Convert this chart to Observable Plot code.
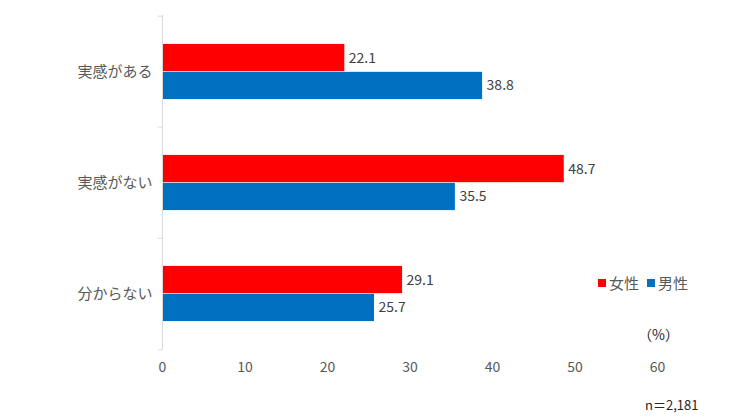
<!DOCTYPE html>
<html><head><meta charset="utf-8">
<script src="https://cdn.jsdelivr.net/npm/d3@7"></script>
<script src="https://cdn.jsdelivr.net/npm/@observablehq/plot@0.6"></script>
<style>
html,body{margin:0;padding:0;background:#fff;}
#wrap{position:relative;width:740px;height:417px;font-family:"Noto Sans CJK JP","Noto Sans",sans-serif;}
.leg{position:absolute;left:598px;top:272px;font-size:15px;color:#595959;display:flex;align-items:center;white-space:nowrap;}
.sw{display:inline-block;width:8px;height:8px;margin-right:3px;}
.pct{position:absolute;left:638px;top:324px;font-size:14px;color:#262626;}
.n{position:absolute;left:645px;top:395px;font-size:13px;color:#262626;}
</style></head>
<body><div id="wrap"></div>
<script>
const categories = ["実感がある", "実感がない", "分からない"];
const female = [22.1, 48.7, 29.1];
const male = [38.8, 35.5, 25.7];
const seriesNames = ["女性", "男性"];
const seriesColors = ["#ff0000", "#0070c0"];
const xTicks = [0, 10, 20, 30, 40, 50, 60];

const fData = categories.map((c, i) => ({cat: c, v: female[i]}));
const mData = categories.map((c, i) => ({cat: c, v: male[i]}));

const H = 417, mt = 15, mb = 67;
const band = (H - mt - mb) / categories.length;

const chart = Plot.plot({
  width: 740, height: H,
  marginLeft: 162, marginRight: 83, marginTop: mt, marginBottom: mb,
  style: {fontFamily: '"Noto Sans CJK JP","Noto Sans",sans-serif', background: "#fff"},
  x: {domain: [0, 60], ticks: xTicks},
  y: {domain: categories, padding: 0},
  marks: [
    Plot.barX(fData, {x: "v", y: "cat", fill: seriesColors[0], insetTop: band*0.25, insetBottom: band*0.5}),
    Plot.barX(mData, {x: "v", y: "cat", fill: seriesColors[1], insetTop: band*0.5, insetBottom: band*0.25}),
    Plot.text(fData, {x: "v", y: "cat", text: d => d.v.toFixed(1), dx: 4, dy: -band*0.125, textAnchor: "start", fontSize: 14, fill: "#404040"}),
    Plot.text(mData, {x: "v", y: "cat", text: d => d.v.toFixed(1), dx: 4, dy: band*0.125, textAnchor: "start", fontSize: 14, fill: "#404040"}),
    Plot.ruleX([0], {stroke: "#d9d9d9"}),
    Plot.ruleY(categories, {y: d => d, dy: -band/2, x1: -0.5, x2: 0, stroke: "#d9d9d9"}),
    Plot.ruleY([categories[categories.length-1]], {y: d => d, dy: band/2, x1: -0.5, x2: 0, stroke: "#d9d9d9"}),
    Plot.axisX({ticks: xTicks, tickSize: 0, tickPadding: 12, fontSize: 14, color: "#595959", label: null}),
    Plot.axisY({tickSize: 0, tickPadding: 10, fontSize: 15, color: "#595959", label: null})
  ]
});

const wrap = document.getElementById("wrap");
wrap.appendChild(chart);
const leg = document.createElement("div");
leg.className = "leg";
seriesNames.forEach((s, i) => {
  const sw = document.createElement("span");
  sw.className = "sw"; sw.style.background = seriesColors[i];
  const t = document.createElement("span");
  t.textContent = s; t.style.marginRight = i === 0 ? "8px" : "0";
  leg.appendChild(sw); leg.appendChild(t);
});
wrap.appendChild(leg);
const p = document.createElement("div"); p.className = "pct"; p.textContent = "（%）"; wrap.appendChild(p);
const n = document.createElement("div"); n.className = "n"; n.textContent = "n＝2,181"; wrap.appendChild(n);
</script></body></html>
